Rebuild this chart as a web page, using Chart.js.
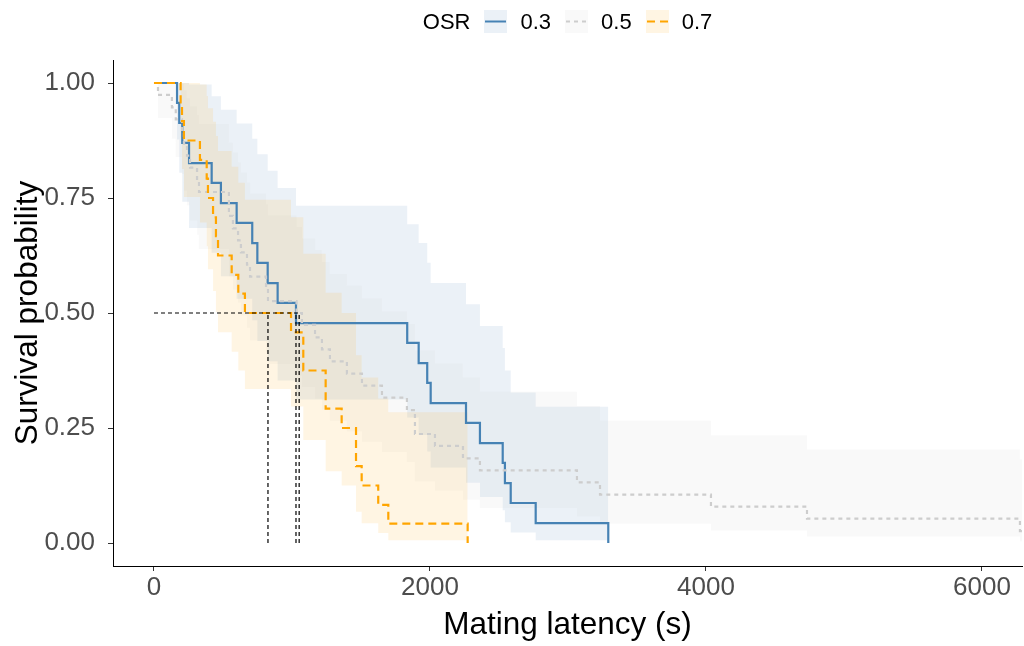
<!DOCTYPE html>
<html>
<head>
<meta charset="utf-8">
<script src="https://cdn.jsdelivr.net/npm/chart.js@4.4.0/dist/chart.umd.min.js"></script>
<style>
  html, body { margin: 0; padding: 0; background: #fff; }
  #wrap { position: relative; width: 1024px; height: 646px; font-family: "Liberation Sans", Arial, sans-serif; }
  #legend { position: absolute; left: 113px; width: 909px; top: 10px; height: 23px;
            display: flex; justify-content: center; align-items: center; font-size: 22px; color: #000; }
  #legend .key { width: 23px; height: 23px; margin-left: 14px; margin-right: 13px; display: block; }
  #legend span { line-height: 23px; }
</style>
</head>
<body>
<div id="wrap">
  <canvas id="km" width="1024" height="646"></canvas>
  <div id="legend"></div>
</div>
<script>
// OSR = 0.3 : event times (s), survival, confidence band
var times03 = [0, 167, 183, 205, 254, 418, 485, 599, 712, 749, 824, 896, 1029, 1835, 1918, 1980, 2005, 2261, 2362, 2527, 2543, 2585, 2766, 3292];
var surv03  = [1, 0.957, 0.913, 0.870, 0.826, 0.783, 0.739, 0.696, 0.652, 0.609, 0.565, 0.522, 0.478, 0.435, 0.391, 0.348, 0.304, 0.261, 0.217, 0.174, 0.130, 0.087, 0.043, 0];
var upper03 = [1, 1, 1, 1, 0.997, 0.971, 0.942, 0.912, 0.879, 0.845, 0.809, 0.772, 0.733, 0.693, 0.652, 0.609, 0.565, 0.519, 0.472, 0.424, 0.375, 0.327, 0.296, 0.296];
var lower03 = [1, 0.877, 0.805, 0.742, 0.685, 0.631, 0.580, 0.531, 0.484, 0.439, 0.395, 0.353, 0.312, 0.273, 0.235, 0.199, 0.164, 0.131, 0.100, 0.071, 0.045, 0.023, 0.006, 0.006];

// OSR = 0.5
var times05 = [0, 29, 130, 158, 203, 217, 239, 261, 312, 326, 543, 572, 609, 630, 674, 696, 812, 826, 1033, 1072, 1167, 1217, 1275, 1398, 1507, 1652, 1833, 1891, 2036, 2239, 2362, 3065, 3232, 4036, 4732, 6275, 6290];
var surv05  = [1, 0.974, 0.947, 0.921, 0.895, 0.868, 0.842, 0.816, 0.789, 0.763, 0.711, 0.684, 0.658, 0.632, 0.605, 0.579, 0.553, 0.526, 0.5, 0.474, 0.447, 0.421, 0.395, 0.368, 0.342, 0.316, 0.289, 0.237, 0.211, 0.184, 0.158, 0.132, 0.105, 0.079, 0.053, 0.026, 0.026];
var upper05 = [1, 1, 1, 1, 0.998, 0.983, 0.966, 0.949, 0.930, 0.911, 0.870, 0.849, 0.827, 0.805, 0.783, 0.759, 0.736, 0.712, 0.687, 0.662, 0.637, 0.611, 0.585, 0.559, 0.532, 0.504, 0.476, 0.419, 0.390, 0.360, 0.329, 0.298, 0.266, 0.234, 0.203, 0.182, 0.182];
var lower05 = [1, 0.924, 0.879, 0.839, 0.802, 0.767, 0.734, 0.701, 0.670, 0.639, 0.580, 0.551, 0.523, 0.495, 0.468, 0.441, 0.415, 0.389, 0.364, 0.339, 0.314, 0.290, 0.266, 0.243, 0.220, 0.198, 0.176, 0.134, 0.114, 0.094, 0.076, 0.058, 0.042, 0.027, 0.014, 0.004, 0.004];

// OSR = 0.7
var times07 = [0, 193, 203, 217, 333, 382, 391, 428, 449, 464, 563, 611, 659, 993, 1082, 1244, 1360, 1464, 1505, 1625, 1698, 2273];
var surv07  = [1, 0.958, 0.917, 0.875, 0.833, 0.792, 0.75, 0.708, 0.667, 0.625, 0.583, 0.542, 0.5, 0.458, 0.375, 0.292, 0.25, 0.167, 0.125, 0.083, 0.042, 0];
var upper07 = [1, 1, 1, 1, 0.997, 0.972, 0.945, 0.916, 0.885, 0.852, 0.818, 0.783, 0.746, 0.708, 0.629, 0.544, 0.5, 0.408, 0.360, 0.314, 0.284, 0.284];
var lower07 = [1, 0.882, 0.813, 0.752, 0.697, 0.645, 0.595, 0.548, 0.502, 0.458, 0.416, 0.375, 0.335, 0.297, 0.224, 0.156, 0.125, 0.068, 0.043, 0.022, 0.006, 0.006];

// median survival times (0.7, 0.3, 0.5)
var medians = [826, 1029, 1052];

var xTicks = [0, 2000, 4000, 6000];
var yTicks = [0, 0.25, 0.5, 0.75, 1];

var FONT = '"Liberation Sans", Arial, sans-serif';

var series = [
  { label: '0.3', times: times03, surv: surv03, upper: upper03, lower: lower03,
    color: '#4682B4', band: 'rgba(70,130,180,0.11)', dash: [], order: 7 },
  { label: '0.5', times: times05, surv: surv05, upper: upper05, lower: lower05,
    color: '#CDCDCD', band: 'rgba(211,211,211,0.13)', dash: [4, 4], order: 6 },
  { label: '0.7', times: times07, surv: surv07, upper: upper07, lower: lower07,
    color: '#FFA500', band: 'rgba(255,165,0,0.11)', dash: [8, 5], order: 5 }
];

function pts(times, vals) {
  return times.map(function (t, i) { return { x: t, y: vals[i] }; });
}

var datasets = [];
series.forEach(function (s) {
  datasets.push({ data: pts(s.times, s.upper), stepped: true, borderColor: 'transparent',
    borderWidth: 0, pointRadius: 0, fill: false, order: s.order + 5 });
  datasets.push({ data: pts(s.times, s.lower), stepped: true, borderColor: 'transparent',
    borderWidth: 0, pointRadius: 0, fill: '-1', backgroundColor: s.band, order: s.order + 5 });
});
series.forEach(function (s) {
  datasets.push({ label: s.label, data: pts(s.times, s.surv), stepped: true, borderColor: s.color,
    borderWidth: 2.2, borderDash: s.dash, pointRadius: 0, fill: false, order: s.order });
});

// median lines
var medLine = { borderColor: '#000', borderWidth: 1.2, borderDash: [4, 3], pointRadius: 0, fill: false, order: 1 };
datasets.push(Object.assign({ data: [{ x: 0, y: 0.5 }, { x: Math.max.apply(null, medians), y: 0.5 }] }, medLine));
medians.forEach(function (m) {
  datasets.push(Object.assign({ data: [{ x: m, y: 0 }, { x: m, y: 0.5 }] }, medLine));
});

new Chart(document.getElementById('km'), {
  type: 'line',
  data: { datasets: datasets },
  options: {
    responsive: false,
    animation: false,
    devicePixelRatio: 1,
    layout: { padding: { top: 60, right: 2, left: 0, bottom: 0 } },
    plugins: { legend: { display: false }, tooltip: { enabled: false } },
    scales: {
      x: {
        type: 'linear', min: -297, max: 6290,
        afterBuildTicks: function (a) { a.ticks = xTicks.map(function (v) { return { value: v }; }); },
        afterFit: function (a) { a.height = 80; },
        grid: { drawOnChartArea: false, drawTicks: true, tickLength: 5, tickColor: '#333' },
        border: { display: true, color: '#000', width: 1 },
        ticks: { color: '#4d4d4d', font: { size: 26, family: FONT }, padding: 1, maxRotation: 0, autoSkip: false,
                 callback: function (v) { return String(v); } },
        title: { display: true, text: 'Mating latency (s)', color: '#000', font: { size: 31.5, family: FONT }, padding: { top: 0, bottom: 2 } }
      },
      y: {
        type: 'linear', min: -0.05, max: 1.05,
        afterBuildTicks: function (a) { a.ticks = yTicks.map(function (v) { return { value: v }; }); },
        afterFit: function (a) { a.width = 113; },
        grid: { drawOnChartArea: false, drawTicks: true, tickLength: 5, tickColor: '#333' },
        border: { display: true, color: '#000', width: 1 },
        ticks: { color: '#4d4d4d', font: { size: 26, family: FONT }, padding: 13,
                 callback: function (v) { return v.toFixed(2); } },
        title: { display: true, text: 'Survival probability', color: '#000', font: { size: 31.5, family: FONT }, padding: { top: 9, bottom: 0 } }
      }
    }
  }
});

// legend
var legend = document.getElementById('legend');
var title = document.createElement('span');
title.textContent = 'OSR';
legend.appendChild(title);
series.forEach(function (s) {
  var ns = 'http://www.w3.org/2000/svg';
  var svg = document.createElementNS(ns, 'svg');
  svg.setAttribute('class', 'key');
  svg.setAttribute('width', '23');
  svg.setAttribute('height', '23');
  var bg = document.createElementNS(ns, 'rect');
  bg.setAttribute('width', '23'); bg.setAttribute('height', '23'); bg.setAttribute('fill', s.band);
  svg.appendChild(bg);
  var ln = document.createElementNS(ns, 'line');
  ln.setAttribute('x1', '1'); ln.setAttribute('x2', '22');
  ln.setAttribute('y1', '11.5'); ln.setAttribute('y2', '11.5');
  ln.setAttribute('stroke', s.color); ln.setAttribute('stroke-width', '2');
  if (s.dash.length) ln.setAttribute('stroke-dasharray', s.dash.join(' '));
  svg.appendChild(ln);
  legend.appendChild(svg);
  var lab = document.createElement('span');
  lab.textContent = s.label;
  legend.appendChild(lab);
});
</script>
</body>
</html>
